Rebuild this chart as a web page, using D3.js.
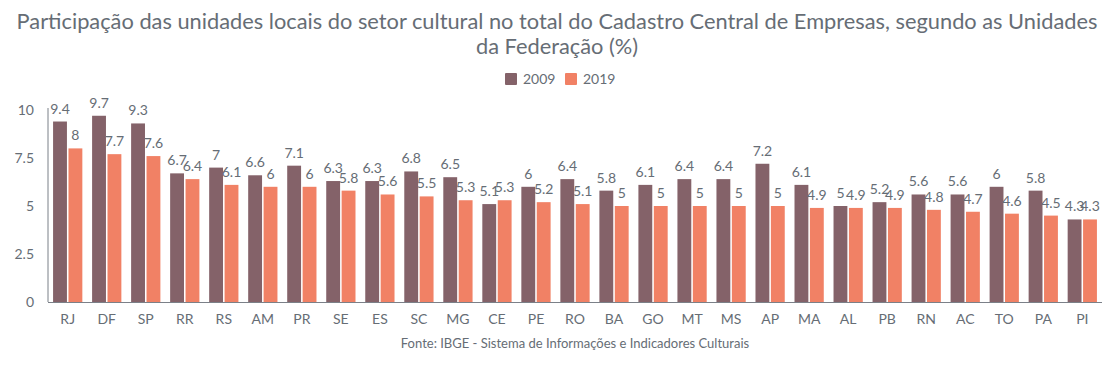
<!DOCTYPE html>
<html>
<head>
<meta charset="utf-8">
<script src="https://cdn.jsdelivr.net/npm/d3@7"></script>
<style>
    body { margin: 0; background: #fff; }
    svg text { font-family: Lato, "Open Sans", sans-serif; fill: #666d75; }
</style>
</head>
<body>
<svg id="chart" width="1114" height="368"></svg>
<script>
'use strict';

var states = ['RJ', 'DF', 'SP', 'RR', 'RS', 'AM', 'PR', 'SE', 'ES', 'SC', 'MG', 'CE', 'PE', 'RO',
    'BA', 'GO', 'MT', 'MS', 'AP', 'MA', 'AL', 'PB', 'RN', 'AC', 'TO', 'PA', 'PI'];
var values2009 = [9.4, 9.7, 9.3, 6.7, 7, 6.6, 7.1, 6.3, 6.3, 6.8, 6.5, 5.1, 6, 6.4,
    5.8, 6.1, 6.4, 6.4, 7.2, 6.1, 5, 5.2, 5.6, 5.6, 6, 5.8, 4.3];
var values2019 = [8, 7.7, 7.6, 6.4, 6.1, 6, 6, 5.8, 5.6, 5.5, 5.3, 5.3, 5.2, 5.1,
    5, 5, 5, 5, 5, 4.9, 4.9, 4.9, 4.8, 4.7, 4.6, 4.5, 4.3];
var seriesNames = ['2009', '2019'];
var yTicks = [0, 2.5, 5, 7.5, 10];
var colors = ['#846269', '#f18165'];

var svg = d3.select('#chart');
var margin = { left: 48, right: 12, top: 110, bottom: 66 };

var rows = states.map(function (s, i) {
    return { state: s, vals: [values2009[i], values2019[i]] };
});

var x = d3.scaleBand()
    .domain(states)
    .range([margin.left, 1102])
    .paddingInner(0.25)
    .paddingOuter(0.13);

var xSub = d3.scaleBand()
    .domain([0, 1])
    .range([0, x.bandwidth()])
    .paddingInner(0.1);

var y = d3.scaleLinear()
    .domain([0, 10])
    .range([302, 110]);

// title
svg.append('text')
    .attr('x', 557).attr('y', 29)
    .attr('text-anchor', 'middle')
    .style('font-size', '21.8px')
    .text('Participação das unidades locais do setor cultural no total do Cadastro Central de Empresas, segundo as Unidades');
svg.append('text')
    .attr('x', 557).attr('y', 54)
    .attr('text-anchor', 'middle')
    .style('font-size', '21.8px')
    .text('da Federação (%)');

// legend
var legend = svg.append('g').attr('transform', 'translate(505, 73)');
seriesNames.forEach(function (name, i) {
    var g = legend.append('g').attr('transform', 'translate(' + (i * 60) + ',0)');
    g.append('rect')
        .attr('width', 12).attr('height', 12).attr('rx', 1)
        .attr('fill', colors[i]);
    g.append('text')
        .attr('x', 18).attr('y', 11)
        .style('font-size', '14px')
        .text(name);
});

// bars
var groups = svg.selectAll('g.state')
    .data(rows)
    .enter()
    .append('g')
    .attr('class', 'state')
    .attr('transform', function (d) {
        return 'translate(' + x(d.state) + ',0)';
    });

groups.selectAll('rect')
    .data(function (d) { return d.vals; })
    .enter()
    .append('rect')
    .attr('x', function (d, i) { return xSub(i); })
    .attr('width', xSub.bandwidth())
    .attr('y', function (d) { return y(d); })
    .attr('height', function (d) { return y(0) - y(d); })
    .attr('fill', function (d, i) { return colors[i]; });

groups.selectAll('text.val')
    .data(function (d) { return d.vals; })
    .enter()
    .append('text')
    .attr('class', 'val')
    .attr('x', function (d, i) { return xSub(i) + xSub.bandwidth() / 2; })
    .attr('y', function (d) { return y(d) - 8; })
    .attr('text-anchor', 'middle')
    .style('font-size', '14px')
    .text(function (d) { return d; });

// axes
var yAxis = svg.append('g')
    .attr('transform', 'translate(' + margin.left + ',0)')
    .call(d3.axisLeft(y).tickValues(yTicks).tickFormat(function (d) { return String(d); })
        .tickSize(0).tickPadding(14));
yAxis.select('.domain').attr('stroke', '#7b8088').attr('d', 'M0,' + (y(10) - 2) + 'V' + y(0));
yAxis.selectAll('text').style('font-size', '14px').style('fill', '#666d75');

var xAxis = svg.append('g')
    .attr('transform', 'translate(0,' + y(0) + ')')
    .call(d3.axisBottom(x).tickSize(0).tickPadding(12));
xAxis.select('.domain').attr('stroke', '#7b8088').attr('d', 'M' + margin.left + ',0.5H1102');
xAxis.selectAll('text').style('font-size', '14px').style('fill', '#666d75');

// source
svg.append('text')
    .attr('x', 575).attr('y', 348)
    .attr('text-anchor', 'middle')
    .style('font-size', '13px')
    .text('Fonte: IBGE - Sistema de Informações e Indicadores Culturais');
</script>
</body>
</html>
